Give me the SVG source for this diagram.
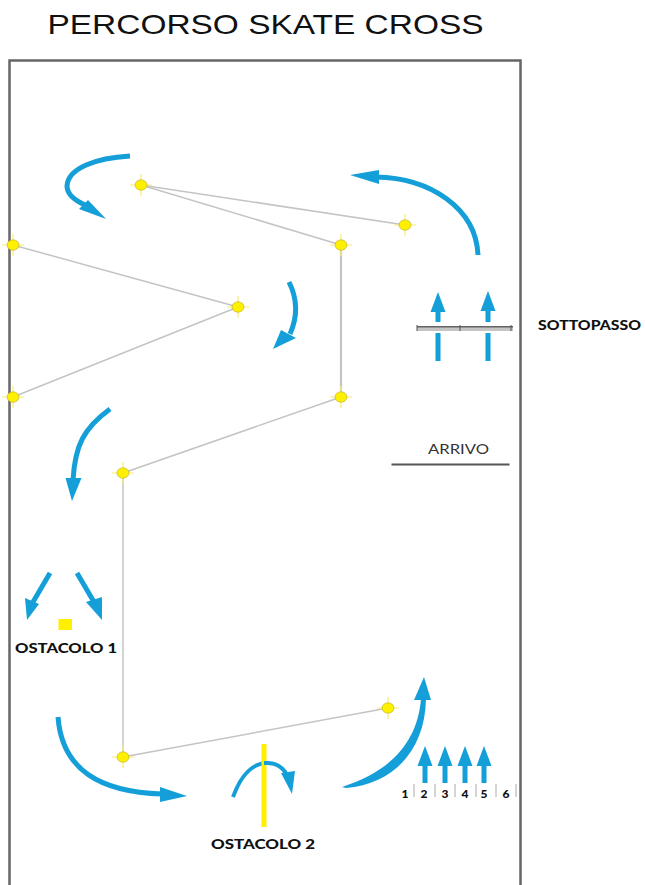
<svg xmlns="http://www.w3.org/2000/svg" width="645" height="885" viewBox="0 0 645 885">
<style>
.edge{fill:none;stroke:#c4c4c4;stroke-width:1.5}
.curve{fill:none;stroke:#159fd8;stroke-width:5}
.shaft{stroke:#159fd8;stroke-width:5;fill:none}
.head{fill:#159fd8}
.lab{font-family:"Lato","Liberation Sans",sans-serif;font-weight:900;fill:#111;font-size:13.5px}
.num{font-family:"Lato","Liberation Sans",sans-serif;font-weight:900;fill:#111;font-size:12px;text-anchor:middle}
.tick{stroke:#aaa;stroke-width:1}
</style>
<defs>
<g id="pin">
<path d="M-11 0H11M0 -11V11" stroke="#f7ec70" stroke-width="1.2"/>
<ellipse rx="6" ry="5.2" fill="#fff000" stroke="#a89c20" stroke-width="0.5"/>
</g>
<g id="up">
<path class="head" d="M0 -20L7.500 0H-7.500Z"/>
</g>
</defs>
<rect id="background" width="645" height="885" fill="#fff"/>
<text id="title" x="47.500" y="34" font-family="Liberation Sans, Arial, sans-serif" font-size="28" fill="#111" textLength="436" lengthAdjust="spacingAndGlyphs">PERCORSO SKATE CROSS</text>
<path id="frame" d="M9.500 890V60.500H520.500V890" fill="none" stroke="#666" stroke-width="2.500"/>
<g id="connectors">
<path class="edge" d="M141 185L405 225"/>
<path class="edge" d="M141 185L341 245"/>
<path class="edge" d="M341 245V397" style="stroke-width:2.200"/>
<path class="edge" d="M341 397L123 473"/>
<path class="edge" d="M123 473V757"/>
<path class="edge" d="M123 757L388 708"/>
<path class="edge" d="M13 245L238 307"/>
<path class="edge" d="M238 307L13 397"/>
</g>
<g id="node-1"><use href="#pin" x="141" y="185"/></g>
<g id="node-2"><use href="#pin" x="13" y="245"/></g>
<g id="node-3"><use href="#pin" x="238" y="307"/></g>
<g id="node-4"><use href="#pin" x="13" y="397"/></g>
<g id="node-5"><use href="#pin" x="405" y="225"/></g>
<g id="node-6"><use href="#pin" x="341" y="245"/></g>
<g id="node-7"><use href="#pin" x="341" y="397"/></g>
<g id="node-8"><use href="#pin" x="123" y="473"/></g>
<g id="node-9"><use href="#pin" x="123" y="757"/></g>
<g id="node-10"><use href="#pin" x="388" y="708"/></g>
<g id="flow-arrows">
<path class="curve" d="M130 156C96 158 68 168 67 186C67 194 74 200 85 205"/>
<path class="head" d="M106 219L79 209L88 200Z"/>
<path class="curve" d="M289 282C297 298 298 316 290 334"/>
<path class="head" d="M273 349L281 330L296 338Z"/>
<path class="curve" d="M478 255C476 208 430 178 376 177"/>
<path class="head" d="M350 175L379 170V184Z"/>
<path class="curve" d="M110 409C84 428 75 445 73 480"/>
<path class="head" d="M72 501L65.500 478H81.500Z"/>
<path class="curve" d="M50 573L33 602"/>
<path class="head" d="M27 620L25 598L39 604Z"/>
<path class="curve" d="M77 573L94 602"/>
<path class="head" d="M102 620L86 602L102 597Z"/>
<path class="curve" d="M58 717C62 770 100 792 162 794"/>
<path class="head" d="M187 796L160 787V802Z"/>
<path class="curve" d="M233 797C242 772 255 763 267 763C277 763 284 768 288 777" style="stroke-width:4"/>
<path class="head" d="M292 794L281 773L295 771Z"/>
<path class="head" d="M342 787C388 772 417 745 421 699H426C425 750 394 784 346 788Z"/>
<path class="head" d="M424 677L431 700H414Z"/>
<path class="shaft" d="M438 310V322M438 333V361M488 310V322M488 333V361"/>
<use href="#up" x="438" y="312"/>
<use href="#up" x="488" y="311"/>
<path class="shaft" d="M425 764V783M445 764V783M465 764V783M484 764V783"/>
<use href="#up" x="425" y="766"/>
<use href="#up" x="445" y="766"/>
<use href="#up" x="465" y="766"/>
<use href="#up" x="484" y="766"/>
</g>
<g id="sottopasso">
<rect x="417" y="327" width="96" height="4" fill="#c4c4c4"/>
<path d="M417 326.800H513" stroke="#222" stroke-width="1"/>
<path d="M417 325V331M460 325V331M511 325V331" stroke="#555" stroke-width="1"/>
<text class="lab" x="538" y="330" textLength="103" lengthAdjust="spacingAndGlyphs">SOTTOPASSO</text>
</g>
<g id="arrivo">
<text x="428" y="454" font-family="Lato, Liberation Sans, sans-serif" font-size="13.500" fill="#333" textLength="61" lengthAdjust="spacingAndGlyphs">ARRIVO</text>
<path d="M391.500 464.500H509.500" stroke="#555" stroke-width="2"/>
</g>
<g id="ostacolo-1">
<rect x="58.500" y="619" width="13.500" height="11" fill="#fff000"/>
<text class="lab" x="15" y="653" textLength="102" lengthAdjust="spacingAndGlyphs">OSTACOLO 1</text>
</g>
<g id="ostacolo-2">
<rect x="261.500" y="744" width="5" height="83" fill="#fff000"/>
<path class="curve" d="M264 763H268" style="stroke-width:4"/>
<text class="lab" x="211" y="849" textLength="104" lengthAdjust="spacingAndGlyphs">OSTACOLO 2</text>
</g>
<g id="griglia">
<path class="tick" d="M414 784V797M435 784V797M455 784V797M476 784V797M496 784V797M516 784V797"/>
<text class="num" x="405" y="798">1</text>
<text class="num" x="424" y="798">2</text>
<text class="num" x="445" y="798">3</text>
<text class="num" x="465" y="798">4</text>
<text class="num" x="484" y="798">5</text>
<text class="num" x="506" y="798">6</text>
</g>
</svg>
